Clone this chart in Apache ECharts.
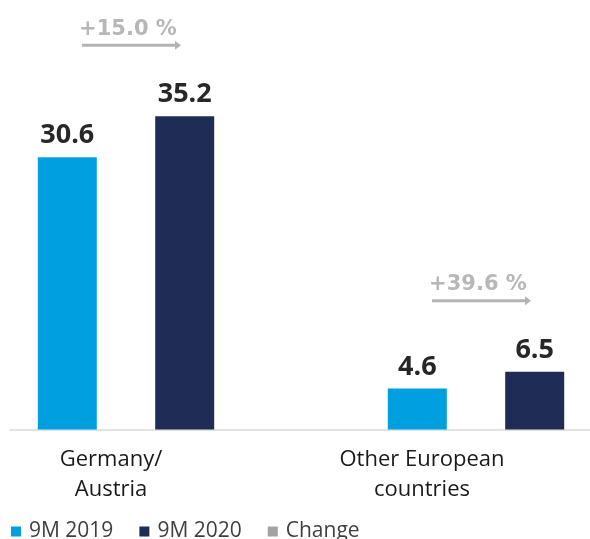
<!DOCTYPE html>
<html>
<head>
<meta charset="utf-8">
<script src="https://cdn.jsdelivr.net/npm/echarts@6/dist/echarts.min.js"></script>
<style>
html,body{margin:0;padding:0;background:#fff;}
#chart{width:590px;height:539px;}
</style>
</head>
<body>
<div id="chart"></div>
<script>
const categories = ['Germany/\nAustria', 'Other European\ncountries'];
const seriesNames = ['9M 2019', '9M 2020', 'Change'];
const values2019 = [30.6, 4.6];
const values2020 = [35.2, 6.5];
const changePct = [15.0, 39.6];

const chart = echarts.init(document.getElementById('chart'), null, {renderer: 'canvas'});

const labelStyle = {
  show: true,
  position: 'top',
  distance: 8,
  fontFamily: 'Open Sans',
  fontWeight: 'bold',
  fontSize: 27,
  color: '#272727',
  formatter: p => p.value.toFixed(1)
};

const changeData = categories.map((c, i) => [i, changePct[i], Math.max(values2019[i], values2020[i])]);

const gridBase = {top: 73.5, bottom: 109.5, containLabel: false, outerBoundsMode: 'none'};

const option = {
  animation: false,
  backgroundColor: '#ffffff',
  legend: {
    left: 6,
    top: 516,
    itemWidth: 10,
    itemHeight: 10,
    itemGap: 26,
    icon: 'rect',
    textStyle: {fontFamily: 'Open Sans', fontSize: 21, color: '#3f3f3f', padding: [0, 0, 0, 3]},
    data: seriesNames
  },
  grid: [
    Object.assign({left: -49, width: 700}, gridBase),
    Object.assign({left: -44.5, width: 622}, gridBase),
    Object.assign({left: 10, right: 0}, gridBase)
  ],
  xAxis: [
    {gridIndex: 0, type: 'category', data: categories, axisLine: {show: false}, axisTick: {show: false}, axisLabel: {show: false}},
    {gridIndex: 1, type: 'category', data: categories, axisLine: {show: false}, axisTick: {show: false},
      axisLabel: {show: true, margin: 15, fontFamily: 'Open Sans', fontSize: 22, lineHeight: 30, color: '#1a1a1a', interval: 0}},
    {gridIndex: 2, type: 'category', data: categories, axisLine: {show: true, lineStyle: {color: '#e2e2e2', width: 2}}, axisTick: {show: false}, axisLabel: {show: false}}
  ],
  yAxis: [
    {gridIndex: 0, type: 'value', min: 0, max: 40, show: false},
    {gridIndex: 1, type: 'value', min: 0, max: 40, show: false},
    {gridIndex: 2, type: 'value', min: 0, max: 40, show: false}
  ],
  series: [
    {
      name: seriesNames[0], type: 'bar', xAxisIndex: 0, yAxisIndex: 0,
      data: values2019, barWidth: 59, barGap: '99%',
      itemStyle: {color: '#009fdf'}, label: labelStyle
    },
    {
      name: seriesNames[1], type: 'bar', xAxisIndex: 0, yAxisIndex: 0,
      data: values2020, barWidth: 59, barGap: '99%',
      itemStyle: {color: '#1f2c56'}, label: labelStyle
    },
    {
      name: seriesNames[2], type: 'custom', xAxisIndex: 0, yAxisIndex: 0,
      clip: false,
      itemStyle: {color: '#a3a3a3'},
      data: changeData,
      renderItem: function (params, api) {
        const p = api.coord([api.value(0), api.value(2)]);
        const ay = p[1] - 71;
        const cx = p[0] + 4;
        const x1 = cx - 48, x2 = cx + 45;
        return {
          type: 'group',
          children: [
            {type: 'line', shape: {x1: x1, y1: ay, x2: x2, y2: ay}, style: {stroke: '#b3b3b3', lineWidth: 3}},
            {type: 'polygon', shape: {points: [[x2, ay - 4.5], [x2 + 6, ay], [x2, ay + 4.5]]}, style: {fill: '#b3b3b3'}},
            {type: 'text', x: p[0] + 2, y: ay - 16,
              style: {text: '+' + api.value(1).toFixed(1) + ' %', fill: '#b7b7b7', font: 'bold 21px "DejaVu Sans"', align: 'center', verticalAlign: 'middle'}}
          ]
        };
      }
    }
  ]
};
chart.setOption(option);
</script>
</body>
</html>
